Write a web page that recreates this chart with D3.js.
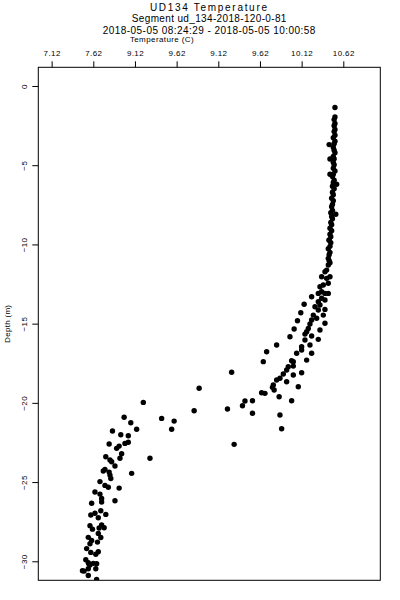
<!DOCTYPE html>
<html>
<head>
<meta charset="utf-8">
<script src="https://cdn.jsdelivr.net/npm/d3@7"></script>
<style>
  body { margin: 0; background: #fff; }
  svg { color: #000; }
  text { font-family: "Liberation Sans", Arial, sans-serif; fill: #000; }
</style>
</head>
<body>
<svg id="chart" width="400" height="600"></svg>
<script>
const titleLines = [
  "UD134 Temperature",
  "Segment ud_134-2018-120-0-81",
  "2018-05-05 08:24:29 - 2018-05-05 10:00:58"
];
const xTitle = "Temperature (C)";
const yTitle = "Depth (m)";
const xTicks = [7.12, 7.62, 8.12, 8.62, 9.12, 9.62, 10.12, 10.62];
const xTickLabels = ["7.12", "7.62", "9.12", "9.62", "9.12", "9.62", "10.12", "10.62"];
const yTicks = [0, -5, -10, -15, -20, -25, -30];

// [temperature (C), depth (m)]
const readings = [
  [10.52, -1.36],
  [10.52, -1.96], [10.51, -2.12], [10.52, -2.37], [10.51, -2.51], [10.52, -2.74],
  [10.51, -2.88], [10.52, -3.11], [10.50, -3.27], [10.52, -3.49], [10.51, -3.64],
  [10.45, -3.70], [10.50, -3.86], [10.51, -4.05], [10.52, -4.21], [10.50, -4.44],
  [10.51, -4.60], [10.46, -4.61], [10.50, -4.82], [10.51, -4.97], [10.50, -5.19],
  [10.52, -5.36], [10.50, -5.57], [10.46, -5.57], [10.49, -5.72], [10.51, -5.95],
  [10.50, -6.10], [10.54, -6.20], [10.49, -6.33], [10.51, -6.48], [10.49, -6.70],
  [10.50, -6.86], [10.48, -7.09], [10.50, -7.24], [10.49, -7.47], [10.48, -7.62],
  [10.49, -7.85], [10.47, -8.00], [10.53, -8.10], [10.48, -8.23], [10.49, -8.38],
  [10.47, -8.61], [10.48, -8.76], [10.46, -8.98], [10.48, -9.13], [10.46, -9.36],
  [10.47, -9.51], [10.45, -9.72], [10.45, -9.74], [10.47, -9.89], [10.46, -10.12],
  [10.44, -10.27], [10.46, -10.50], [10.45, -10.65], [10.44, -10.88], [10.45, -11.03],
  [10.46, -11.15], [10.44, -11.30], [10.42, -11.62], [10.40, -11.72], [10.46, -12.04],
  [10.36, -12.04], [10.42, -12.14], [10.44, -12.45], [10.38, -12.56], [10.34, -12.67],
  [10.36, -12.99], [10.32, -13.09], [10.40, -13.09], [10.44, -13.09], [10.24, -13.30],
  [10.36, -13.40], [10.40, -13.51], [10.32, -13.62], [10.15, -13.78], [10.34, -13.82],
  [10.28, -13.93], [10.40, -14.10], [10.32, -14.14], [10.11, -14.31], [10.26, -14.46],
  [10.38, -14.46], [10.30, -14.66], [10.24, -14.77], [10.07, -14.82], [10.40, -14.98],
  [10.22, -15.02], [10.20, -15.30], [10.03, -15.34], [10.34, -15.40], [10.18, -15.51],
  [10.16, -15.66], [10.24, -15.78], [9.98, -15.83], [10.32, -15.99], [10.16, -16.03],
  [9.82, -16.35], [10.22, -16.35], [10.12, -16.46], [10.12, -16.66], [9.70, -16.77],
  [10.06, -16.87], [10.24, -16.87], [10.18, -17.30], [10.00, -17.34], [9.66, -17.40],
  [10.02, -17.40], [10.02, -17.68], [9.96, -17.72], [9.94, -17.93], [9.28, -18.07],
  [10.12, -18.10], [9.90, -18.18], [10.02, -18.24], [9.86, -18.45], [9.82, -18.56],
  [9.94, -18.67], [9.78, -18.87], [10.08, -18.98], [9.77, -19.02], [8.89, -19.08],
  [9.79, -19.19], [9.64, -19.36], [9.68, -19.40], [9.85, -19.61], [9.44, -19.88],
  [9.53, -19.87], [10.00, -19.87], [8.22, -19.97], [9.41, -20.18], [9.23, -20.39],
  [8.83, -20.50], [9.53, -20.66], [9.86, -20.77], [7.99, -20.91], [8.44, -20.98],
  [8.59, -21.15], [8.07, -21.26], [9.88, -21.63], [8.14, -21.67], [8.56, -21.67],
  [7.85, -21.78], [7.95, -22.01], [8.04, -22.08], [8.04, -22.49], [8.00, -22.56],
  [7.81, -22.60], [9.31, -22.62], [7.93, -22.73], [7.90, -22.87], [7.96, -23.21],
  [7.77, -23.40], [7.94, -23.50], [8.30, -23.50], [7.82, -23.61], [7.84, -23.72],
  [7.88, -23.99], [7.76, -24.20], [7.74, -24.30], [7.81, -24.37], [8.08, -24.45],
  [7.82, -24.56], [7.83, -24.77], [7.70, -24.97], [7.76, -25.21], [7.80, -25.33],
  [7.93, -25.38], [7.64, -25.63], [7.70, -25.76], [7.72, -26.04], [7.88, -26.18],
  [7.72, -26.26], [7.60, -26.34], [7.71, -26.81], [7.64, -26.97], [7.77, -27.04],
  [7.59, -27.08], [7.68, -27.25], [7.72, -27.71], [7.58, -27.75], [7.75, -27.88],
  [7.69, -27.90], [7.61, -27.97], [7.68, -28.24], [7.56, -28.49], [7.71, -28.50],
  [7.60, -28.68], [7.67, -28.79], [7.58, -28.89], [7.54, -29.20], [7.68, -29.40],
  [7.59, -29.44], [7.65, -29.56], [7.53, -29.90], [7.56, -30.09], [7.62, -30.13],
  [7.66, -30.16], [7.57, -30.18], [7.58, -30.24], [7.56, -30.47], [7.65, -30.47],
  [7.49, -30.60], [7.51, -30.62], [7.56, -30.90], [7.66, -31.15]
];

const svg = d3.select("#chart");
const box = {left: 38.3, right: 380.3, top: 67.3, bottom: 580.3};

const x = d3.scaleLinear()
  .domain([6.96, 11.064])
  .range([box.left, box.right]);
const y = d3.scaleLinear()
  .domain([1.18, -31.2])
  .range([box.top, box.bottom]);

// titles, spacing tuned per line to the bitmap-ish original
const titleSpacing = [1.7, 0.35, 0.45];
svg.append("g")
  .selectAll("text")
  .data(titleLines)
  .join("text")
  .attr("x", (box.left + box.right) / 2)
  .attr("y", (d, i) => 10.5 + i * 11.7)
  .attr("text-anchor", "middle")
  .attr("font-size", 10)
  .attr("letter-spacing", (d, i) => titleSpacing[i])
  .text(d => d);

svg.append("text")
  .attr("x", 162)
  .attr("y", 42)
  .attr("text-anchor", "middle")
  .attr("font-size", 8)
  .attr("letter-spacing", 0.4)
  .text(xTitle);

svg.append("text")
  .attr("transform", `translate(10,${(box.top + box.bottom) / 2}) rotate(-90)`)
  .attr("text-anchor", "middle")
  .attr("font-size", 8)
  .attr("letter-spacing", 0.3)
  .text(yTitle);

// top axis
const xAxis = svg.append("g")
  .attr("transform", `translate(0,${box.top})`)
  .call(d3.axisTop(x).tickValues(xTicks).tickFormat((d, i) => xTickLabels[i]).tickSize(6).tickPadding(5));
xAxis.select(".domain").remove();
xAxis.selectAll("text").attr("font-size", 8).attr("letter-spacing", 0.4);

// left axis, labels turned
const yAxis = svg.append("g")
  .attr("transform", `translate(${box.left},0)`)
  .call(d3.axisLeft(y).tickValues(yTicks).tickSize(6));
yAxis.select(".domain").remove();
yAxis.selectAll("text")
  .attr("font-size", 8)
  .attr("letter-spacing", 0.4)
  .attr("transform", "rotate(-90)")
  .attr("text-anchor", "middle")
  .attr("x", 0)
  .attr("y", -11.5)
  .attr("dy", 0);

svg.selectAll(".tick line").attr("stroke", "#000").attr("stroke-width", 1);

// clip + points
svg.append("clipPath").attr("id", "plotClip")
  .append("rect")
  .attr("x", box.left).attr("y", box.top)
  .attr("width", box.right - box.left).attr("height", box.bottom - box.top);

svg.append("g")
  .attr("clip-path", "url(#plotClip)")
  .selectAll("circle")
  .data(readings)
  .join("circle")
  .attr("cx", d => x(d[0]))
  .attr("cy", d => y(d[1]))
  .attr("r", 2.7)
  .attr("fill", "#000");

// frame
svg.append("rect")
  .attr("x", box.left).attr("y", box.top)
  .attr("width", box.right - box.left).attr("height", box.bottom - box.top)
  .attr("fill", "none")
  .attr("stroke", "#000")
  .attr("stroke-width", 1);
</script>
</body>
</html>
